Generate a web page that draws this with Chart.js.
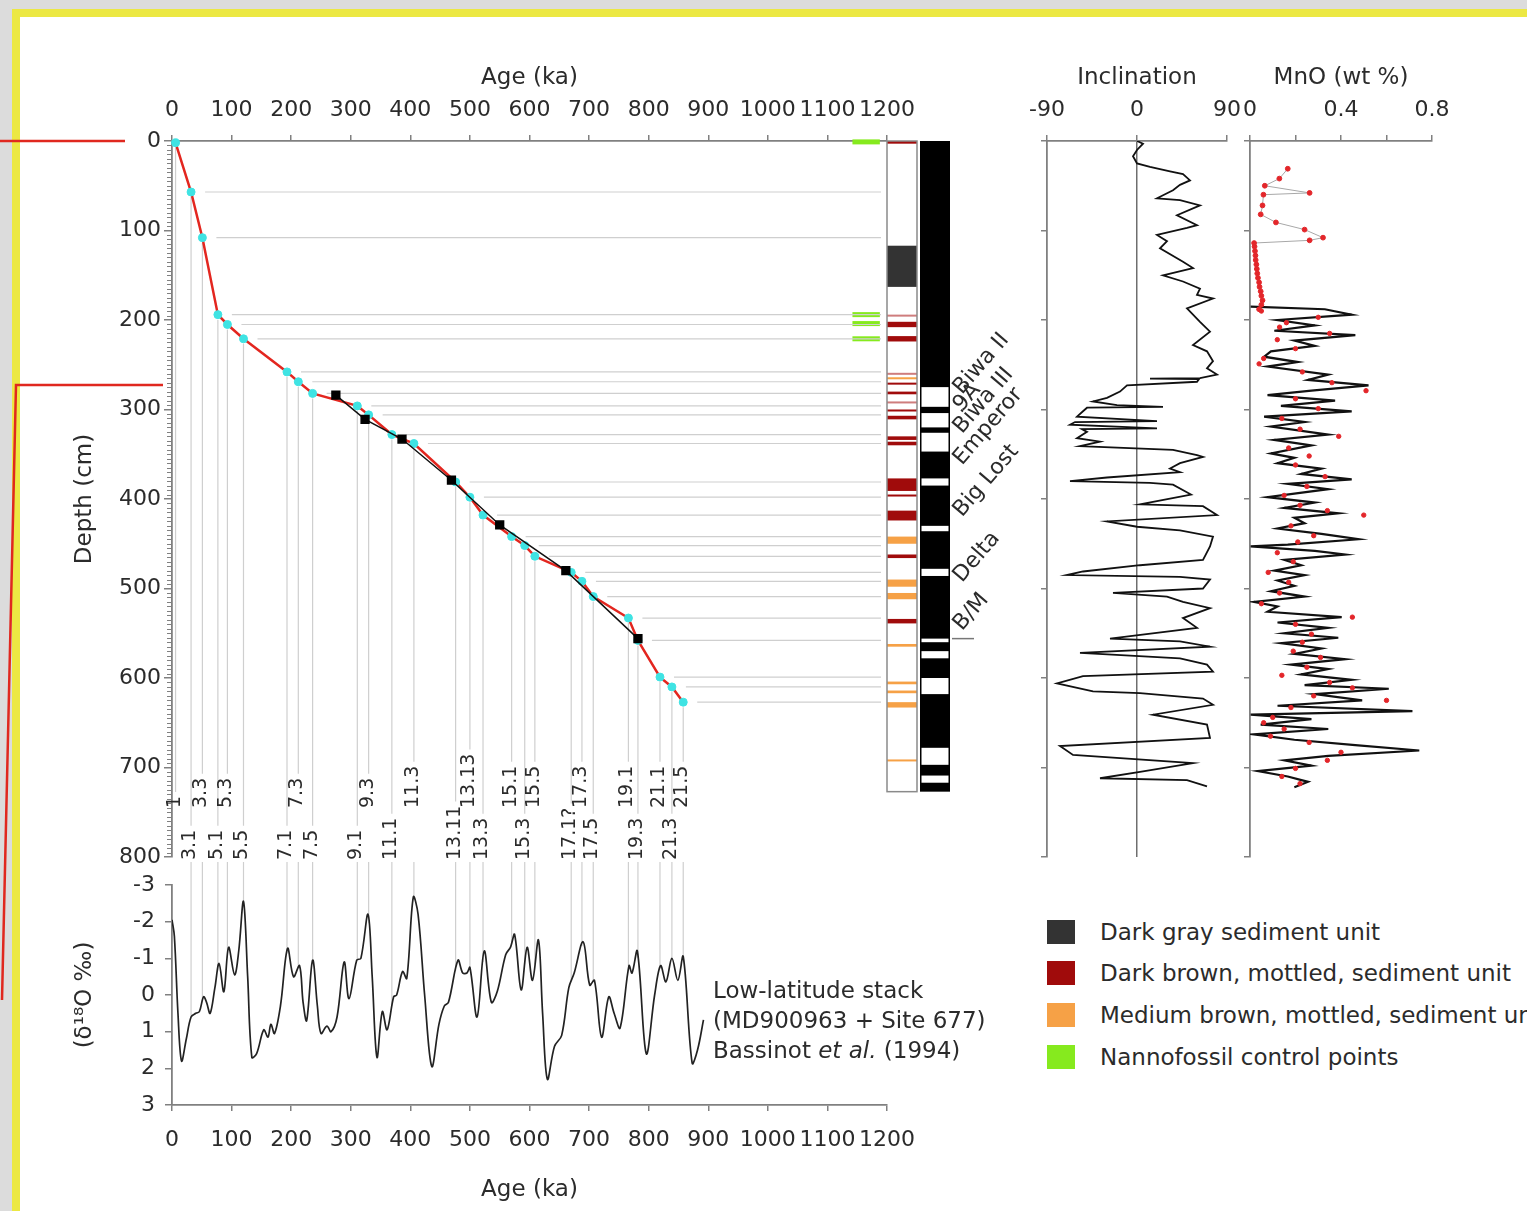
<!DOCTYPE html>
<html>
<head>
<meta charset="utf-8">
<title>Age model, inclination and MnO</title>
<script src="https://cdn.jsdelivr.net/npm/chart.js@4.4.1/dist/chart.umd.min.js"></script>
<style>
html,body{margin:0;padding:0;}
body{width:1527px;height:1211px;overflow:hidden;position:relative;background:#dcdcdc;font-family:"DejaVu Sans",sans-serif;color:#2b2b2b;}
#frame{position:absolute;left:12px;top:9px;width:1600px;height:1300px;border:8px solid #ece843;background:#fff;}
canvas{position:absolute;}
.sw{position:absolute;left:1047px;width:28px;height:24px;}
.lt{position:absolute;left:1100px;font-size:23px;line-height:28px;white-space:nowrap;}
.note{position:absolute;left:713px;top:975px;font-size:23px;line-height:30px;white-space:nowrap;}
#deco{position:absolute;left:0;top:0;}
</style>
</head>
<body>
<div id="frame"></div>
<svg id="deco" width="200" height="1211">
  <path d="M0 141 H125" stroke="#e0281f" stroke-width="2.5" fill="none"/>
  <path d="M163 385 H16 L2 1000" stroke="#e0281f" stroke-width="2.5" fill="none"/>
</svg>
<canvas id="cMain" width="1018" height="858" style="left:22px;top:17px"></canvas>
<canvas id="cBot" width="988" height="351" style="left:22px;top:860px"></canvas>
<canvas id="cInc" width="265" height="858" style="left:1000px;top:17px"></canvas>
<canvas id="cMno" width="280" height="858" style="left:1200px;top:17px"></canvas>

<div class="sw" style="top:920px;background:#333333"></div><div class="lt" style="top:918px">Dark gray sediment unit</div>
<div class="sw" style="top:961px;background:#a00b0b"></div><div class="lt" style="top:959px">Dark brown, mottled, sediment unit</div>
<div class="sw" style="top:1003px;background:#f6a146"></div><div class="lt" style="top:1001px">Medium brown, mottled, sediment unit</div>
<div class="sw" style="top:1045px;background:#86ea1e"></div><div class="lt" style="top:1043px">Nannofossil control points</div>

<div class="note">Low-latitude stack<br>(MD900963 + Site 677)<br>Bassinot <i>et al.</i> (1994)</div>

<script>
// ---------------- DATA ----------------
// MIS tie points (cyan) used for the age model
const tieLabels = ['1','3.1','3.3','5.1','5.3','5.5','7.1','7.3','7.5','9.1','9.3','11.1','11.3','13.11','13.13','13.3','15.1','15.3','15.5','17.1?','17.3','17.5','19.1','19.3','21.1','21.3','21.5'];
const tieAge    = [6,32,51,77,93,120,193,212,236,311,330,369,406,476,500,522,570,592,609,670,688,707,766,782,819,839,858];
const tieDepth  = [2,57,108,194,205,221,258,269,282,296,306,328,338,381,398,418,442,452,464,482,492,509,533,558,599,610,627];

// Paleomagnetic excursion tie points (black squares)
const paleoNames = ['Biwa II','9A','Biwa III','Emperor','Big Lost','Delta','B/M'];
const paleoAge   = [275,324,386,469,550,661,782];
const paleoDepth = [284,311,333,379,429,480,556];

// Nannofossil control points (depth, cm)
const nannoDepth = [1,194,204,221];

// Lithology units (depth cm)
const lithTop    = [0,117,194,202,218,259,264,270,280,291,300,307,330,336,377,395,413,442,462,490,505,534,562,604,614,627,691];
const lithBottom = [3,163,196,208,224,261,266,272,283,293,302,311,334,340,391,397,424,450,466,498,512,539,565,607,617,633,693];
const lithType   = ['r','g','p','r','r','p','o','r','r','p','r','r','r','r','r','r','r','o','r','o','o','r','o','o','o','o','o'];

// Polarity: reversed (white) intervals, depth cm
const polTop    = [275,304,326,377,430,478,556,570,600,678,709];
const polBottom = [297,320,347,385,436,486,560,578,618,697,717];
const columnBottom = 727;

// Low-latitude d18O stack (Bassinot et al., 1994)
const d18Age = [0,4,10,16,24,32,40,46,53,58,64,72,79,87,95,105,112,120,127,134,142,154,161,166,172,182,194,204,214,220,226,236,244,250,260,267,277,289,297,310,317,329,336,344,353,361,372,377,387,394,405,413,424,436,448,457,464,480,488,495,500,512,524,536,546,560,568,575,586,596,605,615,622,630,642,654,666,675,690,701,709,721,733,742,752,767,772,781,796,810,820,829,839,849,858,873,882,892];
const d18Val = [-2.05,-1.6,0.5,1.8,1.2,0.6,0.5,0.45,0.05,0.2,0.5,-0.2,-0.86,-0.09,-1.3,-0.55,-1.2,-2.55,-0.5,1.7,1.6,0.95,1.15,0.8,1.05,0.3,-1.27,-0.5,-0.8,0.2,0.7,-0.95,0.3,1.05,0.85,1.0,0.6,-0.9,0.1,-0.95,-1.0,-2.2,-0.5,1.7,0.45,0.95,0.05,0.0,-0.64,-0.45,-2.67,-2.2,0.0,1.95,0.8,0.3,0.2,-0.95,-0.6,-0.6,-0.75,0.6,-1.2,0.2,-0.1,-1.1,-1.3,-1.65,-0.14,-1.3,-0.4,-1.5,0.5,2.3,1.4,1.1,-0.2,-0.6,-1.45,-0.27,-0.4,1.15,0.05,0.5,0.9,-0.8,-0.6,-1.2,1.6,0.0,-0.8,-0.36,-1.0,-0.4,-1.05,1.86,1.5,0.68];

// Inclination (degrees) vs depth (cm)
const incDepth = [0,3,10,17,25,29,34,37,44,49,55,64,66,72,83,94,97,105,112,120,135,142,150,157,165,172,176,187,202,213,228,235,246,254,261,265,265.5,266,269,273,280,287,291,295,297,298,302,308,313,314,317,321,322,325,332,336,341,345,351,353,360,366,370,376,380,382,384,395,406,408,418,425,431,435,442,453,468,474,481,485,487,490,500,505,509,515,522,533,544,556,559,565,572,578,585,593,598,606,615,617,623,630,641,652,667,676,686,695,705,712,714,721];
const incVal   = [0,6,0,-4,0,13,33,46,53,43,36,20,43,63,40,60,50,20,30,23,46,56,26,46,63,60,76,50,63,73,56,70,76,70,80,63,13,62,60,-10,-17,-30,-44,-20,26,-50,-54,-60,20,-62,-67,20,-55,-50,-60,-37,-57,36,60,66,43,33,43,-30,-67,13,36,54,3,66,80,-30,0,43,76,73,66,3,-54,-70,43,73,66,-24,30,46,73,46,60,-27,43,73,-57,43,70,76,-54,-80,-44,3,66,76,16,70,73,-77,-64,56,3,-37,50,70];

// MnO (wt %): upper discrete samples, continuous record, discrete samples over the record
const mnoTopDepth = [31,42,50,58,60,72,82,91,99,108,111,114,118,123,128,133,138,143,148,153,158,163,168,173,178,183,188];
const mnoTopVal   = [0.166,0.129,0.065,0.262,0.059,0.055,0.047,0.114,0.24,0.321,0.262,0.018,0.02,0.022,0.024,0.025,0.028,0.03,0.032,0.035,0.04,0.042,0.047,0.05,0.055,0.05,0.04];
const mnoDepth = [185,188,194,200,206,212,217,223,229,235,241,247,252,261,267,273,279,284,290,296,302,308,314,319,328,334,340,349,354,360,366,372,378,383,389,398,404,410,416,421,427,433,439,445,451,453,458,462,468,474,480,485,491,497,503,509,515,520,526,532,538,544,550,555,561,567,573,579,585,590,596,602,608,612,618,625,631,637,641,646,652,657,663,669,675,681,687,692,698,704,710,716,722];
const mnoVal   = [0.003,0.329,0.447,0.121,0.285,0.107,0.463,0.195,0.285,0.092,0.062,0.21,0.077,0.344,0.255,0.521,0.27,0.077,0.374,0.136,0.447,0.062,0.24,0.092,0.344,0.107,0.27,0.092,0.195,0.121,0.314,0.225,0.447,0.166,0.344,0.077,0.285,0.151,0.388,0.195,0.24,0.121,0.314,0.477,0.166,0.003,0.285,0.418,0.151,0.225,0.107,0.24,0.121,0.195,0.092,0.24,0.018,0.121,0.077,0.403,0.121,0.344,0.151,0.388,0.136,0.314,0.195,0.418,0.181,0.344,0.225,0.447,0.24,0.61,0.285,0.493,0.121,0.714,0.003,0.27,0.047,0.344,0.018,0.195,0.463,0.744,0.344,0.151,0.27,0.033,0.166,0.255,0.195];
const mnoDotDepth = [190,197,203,208,215,222,232,243,249,258,270,279,288,299,310,322,330,343,352,362,375,386,396,407,413,418,430,441,448,460,470,482,493,505,517,532,540,551,560,570,577,588,597,605,611,620,625,633,644,650,657,665,672,683,692,701,710,718];
const mnoDotVal   = [0.05,0.30,0.16,0.13,0.35,0.12,0.20,0.06,0.04,0.23,0.36,0.51,0.20,0.30,0.14,0.22,0.39,0.17,0.26,0.20,0.33,0.25,0.15,0.22,0.34,0.50,0.18,0.28,0.21,0.12,0.19,0.08,0.17,0.13,0.05,0.45,0.20,0.27,0.23,0.19,0.31,0.25,0.14,0.35,0.45,0.28,0.60,0.18,0.10,0.06,0.15,0.09,0.26,0.40,0.34,0.20,0.14,0.22];

// Tick labels
const ageTicks = [0,100,200,300,400,500,600,700,800,900,1000,1100,1200];

// ---------------- DRAWING ----------------
const FONT = '"DejaVu Sans", sans-serif';
const AXIS = '#808080';
const TXT = '#2b2b2b';
Chart.defaults.font.family = FONT;
Chart.defaults.color = TXT;
Chart.defaults.animation = false;
Chart.defaults.events = [];
Chart.defaults.plugins.legend.display = false;
Chart.defaults.plugins.tooltip.enabled = false;

const LABEL_ROW = [0,1,0,1,0,1,1,0,1,1,0,1,0,1,0,1,0,1,0,1,0,1,0,1,0,1,0]; // 0 upper, 1 lower
const POL_LABEL_DEPTH = [284,303,328,363,421,494,548];
const LITH_COLORS = {r:'#a00b0b', o:'#f6a146', g:'#333333', p:'#cf7d7d'};

function xy(xs, ys){ return xs.map((v,i)=>({x:v, y:ys[i]})); }
function d18At(a){
  for (let i=1;i<d18Age.length;i++){
    if (a <= d18Age[i]){ const t=(a-d18Age[i-1])/(d18Age[i]-d18Age[i-1]); return d18Val[i-1]+t*(d18Val[i]-d18Val[i-1]); }
  }
  return d18Val[d18Val.length-1];
}
const tickFont = {size:22};
const titleFont = {size:23};

const mainDecor = {
  id:'mainDecor',
  beforeDatasetsDraw(chart){
    const {ctx, chartArea:ca, scales:{x,y}} = chart;
    ctx.save();
    ctx.fillStyle = '#86ea1e';
    nannoDepth.forEach(d=>{
      const py = y.getPixelForValue(d), a = x.getPixelForValue(1142), b = x.getPixelForValue(1188);
      ctx.fillRect(a, py-2.5, b-a, 5);
    });
    ctx.strokeStyle = '#cfcfcf'; ctx.lineWidth = 1.2;
    ctx.font = '19px ' + FONT;
    tieAge.forEach((a,i)=>{
      const px = x.getPixelForValue(a), py = y.getPixelForValue(tieDepth[i]);
      if (i>0){ ctx.beginPath(); ctx.moveTo(px+14, py); ctx.lineTo(ca.right-6, py); ctx.stroke(); }
      const w = ctx.measureText(tieLabels[i]).width;
      const start = LABEL_ROW[i] ? ca.bottom+3 : ca.bottom-49;
      ctx.beginPath(); ctx.moveTo(px, py+5); ctx.lineTo(px, start-w-4); ctx.stroke();
    });
    ctx.restore();
  },
  afterDraw(chart){
    const {ctx, chartArea:ca, scales:{x,y}} = chart;
    ctx.save();
    // minor depth ticks
    ctx.strokeStyle = AXIS; ctx.lineWidth = 1;
    for (let d=5; d<800; d+=5){
      if (d%100===0) continue;
      const py = Math.round(y.getPixelForValue(d))+0.5;
      ctx.beginPath(); ctx.moveTo(ca.left-5, py); ctx.lineTo(ca.left, py); ctx.stroke();
    }
    // lithology column
    const lx = ca.right, lw = 30, y0 = y.getPixelForValue(0), y1 = y.getPixelForValue(columnBottom);
    ctx.fillStyle = '#fff'; ctx.fillRect(lx, y0, lw, y1-y0);
    lithTop.forEach((t,i)=>{
      const a = y.getPixelForValue(t), b = y.getPixelForValue(lithBottom[i]);
      ctx.fillStyle = LITH_COLORS[lithType[i]];
      ctx.fillRect(lx, a, lw, Math.max(b-a, 2));
    });
    ctx.strokeStyle = '#8a8a8a'; ctx.lineWidth = 1.5; ctx.strokeRect(lx, y0, lw, y1-y0);
    // polarity column
    const px0 = ca.right + 33;
    ctx.fillStyle = '#000'; ctx.fillRect(px0, y0, 30, y1-y0);
    ctx.fillStyle = '#fff';
    polTop.forEach((t,i)=>{
      const a = y.getPixelForValue(t), b = y.getPixelForValue(polBottom[i]);
      ctx.fillRect(px0+1.5, a, 27, b-a);
    });
    // B/M marker
    ctx.strokeStyle = '#777'; ctx.lineWidth = 1.5;
    const bm = y.getPixelForValue(paleoDepth[6]);
    ctx.beginPath(); ctx.moveTo(px0+32, bm); ctx.lineTo(px0+54, bm); ctx.stroke();
    // polarity labels
    ctx.fillStyle = TXT; ctx.font = '22px ' + FONT;
    paleoNames.forEach((n,i)=>{
      ctx.save();
      ctx.translate(px0+42, y.getPixelForValue(POL_LABEL_DEPTH[i]));
      ctx.rotate(-0.86);
      ctx.textAlign = 'left'; ctx.textBaseline = 'alphabetic';
      ctx.fillText(n, 0, 0);
      ctx.restore();
    });
    // MIS labels
    ctx.font = '19px ' + FONT; ctx.fillStyle = TXT;
    tieLabels.forEach((l,i)=>{
      const px = x.getPixelForValue(tieAge[i]);
      const start = LABEL_ROW[i] ? ca.bottom+3 : ca.bottom-49;
      ctx.save(); ctx.translate(px-1, start); ctx.rotate(-Math.PI/2);
      ctx.textAlign = 'left'; ctx.textBaseline = 'middle';
      ctx.fillText(l, 0, 0);
      ctx.restore();
    });
    ctx.restore();
  }
};

new Chart(document.getElementById('cMain'), {
  type:'scatter',
  data:{datasets:[
    {label:'Paleomagnetic tie points', data:xy(paleoAge, paleoDepth), showLine:true, borderColor:'#111', borderWidth:1.5,
     pointStyle:'rect', pointRadius:5.5, pointBackgroundColor:'#000', pointBorderColor:'#000', order:1, clip:false},
    {label:'MIS tie points', data:xy(tieAge, tieDepth), showLine:false, pointRadius:4, pointBackgroundColor:'#3fe3e3',
     pointBorderColor:'#3fe3e3', order:2, clip:false},
    {label:'Age model', data:xy(tieAge, tieDepth), showLine:true, borderColor:'#e3261f', borderWidth:2.5, pointRadius:0, order:3}
  ]},
  options:{
    responsive:false,
    layout:{padding:{right:153, bottom:18}},
    scales:{
      x:{type:'linear', position:'top', min:0, max:1200,
         afterBuildTicks(s){ s.ticks = ageTicks.map(v=>({value:v})); },
         ticks:{font:tickFont, color:TXT, autoSkip:false, maxRotation:0, padding:12, callback:v=>String(v)},
         grid:{drawOnChartArea:false, color:AXIS, lineWidth:1.5, tickLength:6},
         border:{color:AXIS, width:1.8},
         title:{display:true, text:'Age (ka)', font:titleFont, color:TXT, padding:{top:47}},
         afterFit(s){ s.height = 124; }},
      y:{type:'linear', reverse:true, min:0, max:800,
         ticks:{stepSize:100, font:tickFont, color:TXT, padding:3, callback:v=>String(v)},
         grid:{drawOnChartArea:false, color:AXIS, lineWidth:1.5, tickLength:8},
         border:{color:AXIS, width:1.8},
         title:{display:true, text:'Depth (cm)', font:titleFont, color:TXT, padding:{top:49}},
         afterFit(s){ s.width = 150; }}
    }
  },
  plugins:[mainDecor]
});

const botDecor = {
  id:'botDecor',
  beforeDatasetsDraw(chart){
    const {ctx, scales:{x,y}} = chart;
    ctx.save(); ctx.strokeStyle = '#cfcfcf'; ctx.lineWidth = 1.2;
    tieAge.forEach(a=>{
      if (a < 10) return;
      const px = x.getPixelForValue(a);
      ctx.beginPath(); ctx.moveTo(px, 2); ctx.lineTo(px, y.getPixelForValue(d18At(a))); ctx.stroke();
    });
    ctx.restore();
  }
};

new Chart(document.getElementById('cBot'), {
  type:'scatter',
  data:{datasets:[
    {label:'Low-latitude stack', data:xy(d18Age, d18Val), showLine:true, borderColor:'#222', borderWidth:1.7,
     pointRadius:0, tension:0.35}
  ]},
  options:{
    responsive:false,
    layout:{padding:{top:25, right:123}},
    scales:{
      x:{type:'linear', position:'bottom', min:0, max:1200,
         afterBuildTicks(s){ s.ticks = ageTicks.map(v=>({value:v})); },
         ticks:{font:tickFont, color:TXT, autoSkip:false, maxRotation:0, padding:16, callback:v=>String(v)},
         grid:{drawOnChartArea:false, color:AXIS, lineWidth:1.5, tickLength:6},
         border:{color:AXIS, width:1.8},
         title:{display:true, text:'Age (ka)', font:titleFont, color:TXT, padding:{bottom:7}},
         afterFit(s){ s.height = 106; }},
      y:{type:'linear', reverse:true, min:-3, max:3,
         ticks:{stepSize:1, font:tickFont, color:TXT, padding:10, callback:v=>String(v)},
         grid:{drawOnChartArea:false, color:AXIS, lineWidth:1.5, tickLength:7},
         border:{color:AXIS, width:1.8},
         title:{display:true, text:'(δ¹⁸O ‰)', font:titleFont, color:TXT, padding:{top:49}},
         afterFit(s){ s.width = 150; }}
    }
  },
  plugins:[botDecor]
});

new Chart(document.getElementById('cInc'), {
  type:'scatter',
  data:{datasets:[
    {label:'Inclination', data:xy(incVal, incDepth), showLine:true, borderColor:'#111', borderWidth:1.8, pointRadius:0}
  ]},
  options:{
    responsive:false,
    layout:{padding:{right:38, bottom:18}},
    scales:{
      x:{type:'linear', position:'top', min:-90, max:90,
         ticks:{stepSize:90, font:tickFont, color:TXT, autoSkip:false, maxRotation:0, padding:12, callback:v=>String(v)},
         grid:{drawOnChartArea:true, color:c=> (c.tick && c.tick.value===0) ? '#6e6e6e' : 'rgba(0,0,0,0)',
               tickColor:AXIS, lineWidth:1.5, tickLength:6},
         border:{color:AXIS, width:1.8},
         title:{display:true, text:'Inclination', font:titleFont, color:TXT, padding:{top:47}},
         afterFit(s){ s.height = 124; }},
      y:{type:'linear', reverse:true, min:0, max:800,
         ticks:{stepSize:100, padding:0, callback:()=>''},
         grid:{drawOnChartArea:false, color:AXIS, lineWidth:1.5, tickLength:6},
         border:{color:AXIS, width:1.8},
         afterFit(s){ s.width = 47; }}
    }
  }
});

new Chart(document.getElementById('cMno'), {
  type:'scatter',
  data:{datasets:[
    {label:'MnO samples', data:xy(mnoDotVal, mnoDotDepth), showLine:false, pointRadius:2.2,
     pointBackgroundColor:'#e3262a', pointBorderColor:'#e3262a', order:1},
    {label:'MnO upper samples', data:xy(mnoTopVal, mnoTopDepth), showLine:true, borderColor:'#a8a8a8', borderWidth:1,
     pointRadius:2.4, pointBackgroundColor:'#e3262a', pointBorderColor:'#e3262a', order:2},
    {label:'MnO', data:xy(mnoVal, mnoDepth), showLine:true, borderColor:'#111', borderWidth:2.2, pointRadius:0, order:3}
  ]},
  options:{
    responsive:false,
    layout:{padding:{right:48, bottom:18}},
    scales:{
      x:{type:'linear', position:'top', min:0, max:0.8,
         ticks:{stepSize:0.2, font:tickFont, color:TXT, autoSkip:false, maxRotation:0, padding:12,
                callback:v=>{ const s=Math.round(v*100); return s===0?'0':(s===40?'0.4':(s===80?'0.8':'')); }},
         grid:{drawOnChartArea:false, color:AXIS, lineWidth:1.5, tickLength:6},
         border:{color:AXIS, width:1.8},
         title:{display:true, text:'MnO (wt %)', font:titleFont, color:TXT, padding:{top:47}},
         afterFit(s){ s.height = 124; }},
      y:{type:'linear', reverse:true, min:0, max:800,
         ticks:{stepSize:100, padding:0, callback:()=>''},
         grid:{drawOnChartArea:false, color:AXIS, lineWidth:1.5, tickLength:6},
         border:{color:AXIS, width:1.8},
         afterFit(s){ s.width = 50; }}
    }
  }
});
</script>
</body>
</html>
